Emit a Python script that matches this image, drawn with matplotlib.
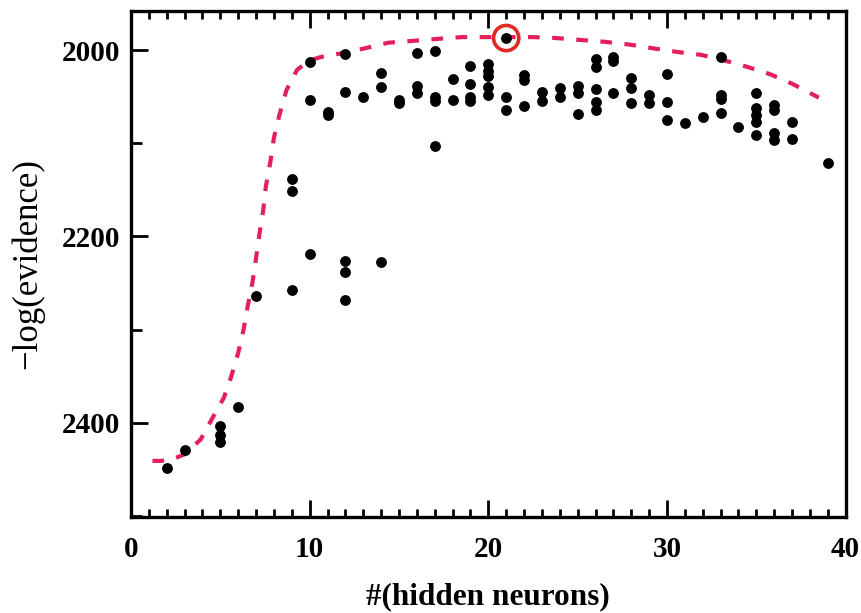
import matplotlib
matplotlib.use('Agg')
import matplotlib.pyplot as plt
from matplotlib.ticker import MultipleLocator
import numpy as np

# scatter of runs: (#hidden neurons, -log evidence)
neurons = [2, 3, 5, 5, 5, 6, 7, 9, 9, 9, 10, 10, 10, 11, 11,
           12, 12, 12, 12, 12, 13, 14, 14, 14, 15, 15, 16, 16, 16,
           17, 17, 17, 17, 18, 18, 19, 19, 19, 19,
           20, 20, 20, 20, 20, 21, 21, 21, 22, 22, 22, 23, 23, 24, 24,
           25, 25, 25, 26, 26, 26, 26, 26, 27, 27, 27, 28, 28, 28, 29, 29,
           30, 30, 30, 31, 32, 33, 33, 33, 33, 34,
           35, 35, 35, 35, 35, 36, 36, 36, 36, 37, 37, 39]
neg_log_ev = [2449, 2429, 2404, 2413, 2421, 2383, 2264, 2138, 2151, 2258, 2013, 2054, 2219, 2066, 2070,
              2004, 2045, 2226, 2238, 2268, 2050, 2025, 2040, 2227, 2054, 2057, 2003, 2039, 2046,
              2001, 2050, 2055, 2103, 2031, 2054, 2017, 2036, 2050, 2055,
              2015, 2022, 2028, 2040, 2048, 1987, 2050, 2064, 2027, 2032, 2060, 2045, 2055, 2041, 2050,
              2039, 2046, 2069, 2009, 2018, 2042, 2056, 2064, 2007, 2012, 2046, 2030, 2041, 2057, 2048, 2057,
              2026, 2056, 2075, 2078, 2072, 2007, 2048, 2052, 2067, 2082,
              2046, 2062, 2070, 2077, 2091, 2059, 2064, 2089, 2096, 2077, 2095, 2121]

# envelope (dashed red curve)
curve_x = [1.2, 1.7, 2.2, 3.0, 3.9, 4.5, 5.2, 5.6, 6.0, 6.3, 6.55, 6.8, 7.0, 7.2, 7.4, 7.55,
           7.8, 8.0, 8.3, 8.7, 9.3, 10.0, 10.7, 11.9, 13.1, 14.4, 15.8, 17.1, 18.5, 19.8,
           21.2, 22.5, 23.8, 25.1, 26.5, 27.9, 29.2, 30.6, 31.9, 33.2, 34.5, 35.8, 37.0, 38.2, 38.5]
curve_y = [2441, 2441, 2440, 2434, 2418, 2397, 2373, 2351, 2325, 2300, 2273, 2249, 2223, 2196, 2172, 2146,
           2120, 2094, 2070, 2043, 2021, 2011, 2007, 2003, 1998, 1992, 1990, 1988, 1986, 1986,
           1986, 1986, 1987, 1989, 1991, 1994, 1998, 2002, 2005, 2011, 2018, 2026, 2036, 2048, 2051]

best_x = [21]
best_y = [1987]

plt.rcParams['font.family'] = ['Liberation Serif', 'DejaVu Serif']
plt.rcParams['font.weight'] = 'bold'

fig = plt.figure(figsize=(8.62, 6.13), dpi=100)
ax = fig.add_axes([0.152, 0.157, 0.829, 0.825])

ax.plot(curve_x, curve_y, color='#e3205c', lw=3, dashes=(2.8, 3.0), zorder=2)
ax.scatter(neurons, neg_log_ev, s=46, color='black', zorder=3)
ax.scatter(best_x, best_y, s=330, facecolors='none', edgecolors='#e02a20', linewidths=2.6, zorder=4)

ax.set_xlim(0, 40)
ax.set_ylim(2501, 1958)
ax.xaxis.set_major_locator(MultipleLocator(10))
ax.xaxis.set_minor_locator(MultipleLocator(1))
ax.yaxis.set_major_locator(MultipleLocator(200))
ax.yaxis.set_minor_locator(MultipleLocator(100))

ax.tick_params(which='both', direction='in', top=True, right=False, width=2, labelsize=21)
ax.tick_params(axis='x', pad=14)
ax.tick_params(axis='y', pad=8)
ax.tick_params(which='major', length=12)
ax.tick_params(which='minor', length=6)
ax.tick_params(axis='y', which='minor', length=8)

for s in ax.spines.values():
    s.set_linewidth(2.4)

ax.set_xlabel('#(hidden neurons)', fontsize=22.5, fontweight='bold', labelpad=14)
ax.set_ylabel('\u2212log(evidence)', fontsize=25, fontweight='normal', labelpad=12)

fig.savefig('out.png', dpi=100)
